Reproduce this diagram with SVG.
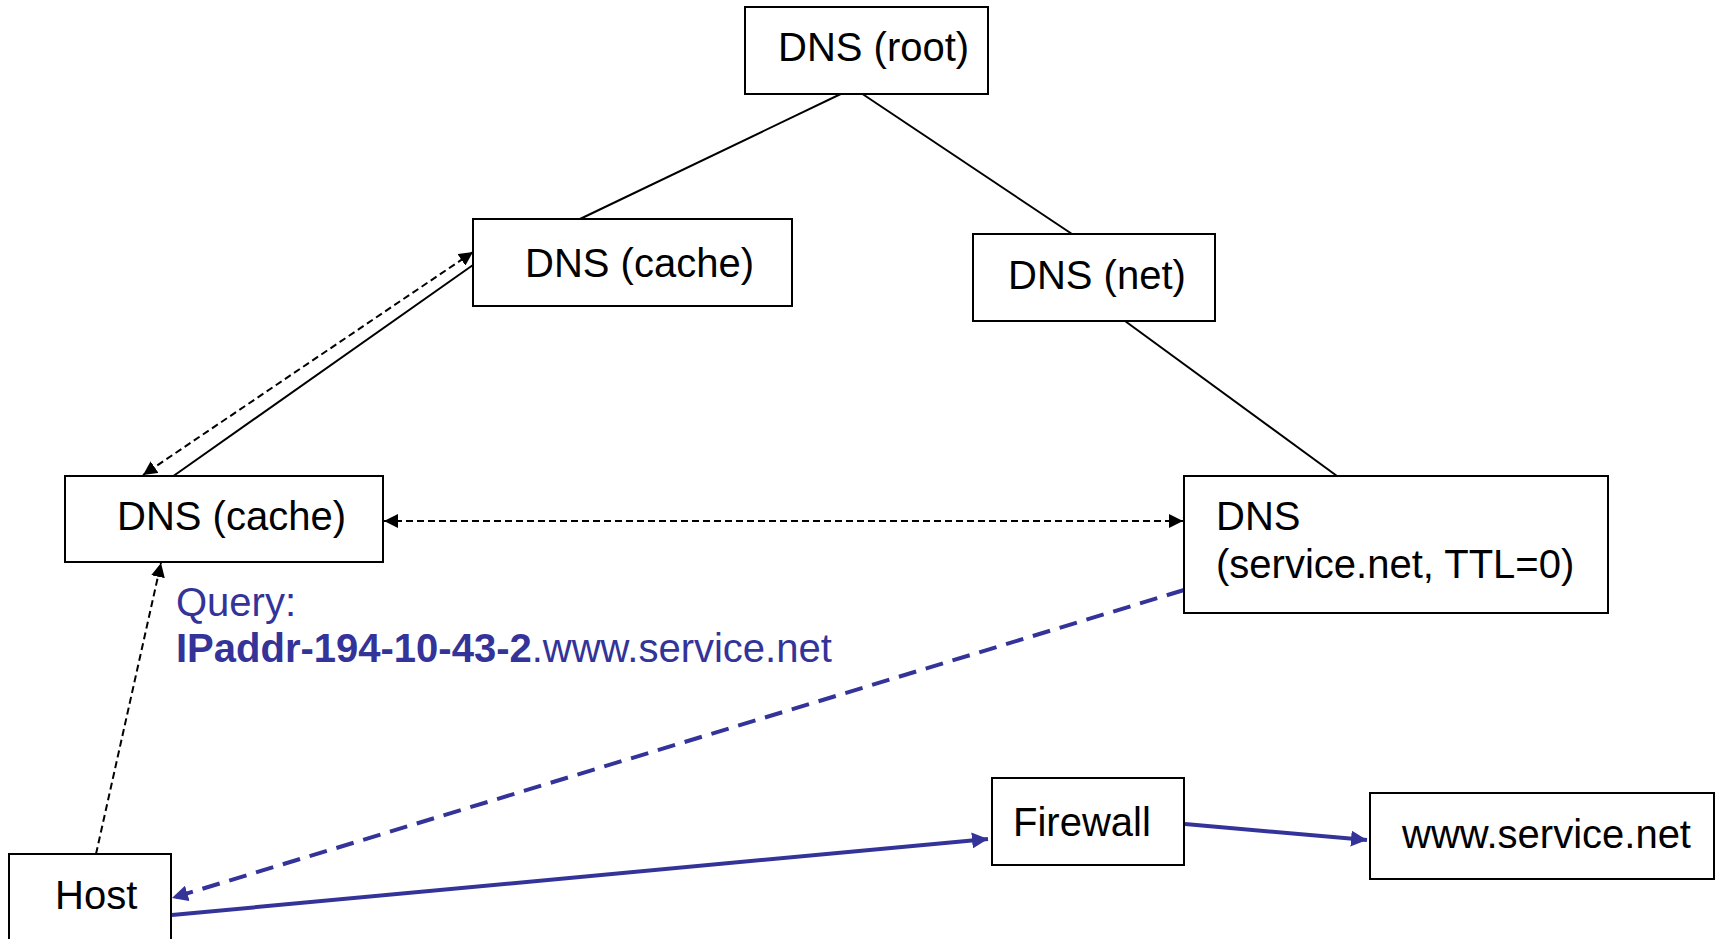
<svg xmlns="http://www.w3.org/2000/svg" width="1722" height="939" viewBox="0 0 1722 939">
  <style>
    .box { fill: #ffffff; stroke: #000000; stroke-width: 2; }
    .lbl { font-family: "Liberation Sans", Arial, sans-serif; font-size: 40px; fill: #000000; }
    .q { font-family: "Liberation Sans", Arial, sans-serif; font-size: 40px; fill: #333399; }
    .tree { stroke: #000000; stroke-width: 2; fill: none; }
    .dash { stroke: #000000; stroke-width: 2; fill: none; stroke-dasharray: 7 4; }
    .bdash { stroke: #333399; stroke-width: 4; fill: none; stroke-dasharray: 18 10; }
    .bsolid { stroke: #333399; stroke-width: 4; fill: none; }
  </style>
  <defs>
    <marker id="ah" markerUnits="userSpaceOnUse" markerWidth="16" markerHeight="14" refX="14" refY="7" orient="auto-start-reverse">
      <path d="M0,0 L14,7 L0,14 Z" fill="#000000"/>
    </marker>
    <marker id="bah" markerUnits="userSpaceOnUse" markerWidth="18" markerHeight="16" refX="16" refY="8" orient="auto-start-reverse">
      <path d="M0,0 L16,8 L0,16 Z" fill="#333399"/>
    </marker>
  </defs>

  <!-- connectors -->
  <g id="connectors">
    <line class="tree" x1="847" y1="91" x2="580" y2="219"/>
    <line class="tree" x1="858" y1="91" x2="1072" y2="234"/>
    <line class="tree" x1="1125" y1="321" x2="1337" y2="476"/>
    <line class="tree" x1="473" y1="265" x2="172" y2="477"/>
    <line class="dash" x1="473" y1="252" x2="143" y2="475" marker-start="url(#ah)" marker-end="url(#ah)"/>
    <line class="dash" x1="384" y1="521" x2="1183" y2="521" marker-start="url(#ah)" marker-end="url(#ah)"/>
    <line class="dash" x1="96" y1="854" x2="161" y2="563" marker-end="url(#ah)"/>
    <line class="bdash" x1="1184" y1="590" x2="172" y2="898" marker-end="url(#bah)"/>
    <line class="bsolid" x1="172" y1="915" x2="988" y2="839" marker-end="url(#bah)"/>
    <line class="bsolid" x1="1185" y1="824" x2="1367" y2="840" marker-end="url(#bah)"/>
  </g>

  <g id="dns-root">
    <rect class="box" x="745" y="7" width="243" height="87"/>
    <text class="lbl" x="778" y="61">DNS (root)</text>
  </g>

  <g id="dns-cache-upper">
    <rect class="box" x="473" y="219" width="319" height="87"/>
    <text class="lbl" x="525" y="277">DNS (cache)</text>
  </g>

  <g id="dns-net">
    <rect class="box" x="973" y="234" width="242" height="87"/>
    <text class="lbl" x="1008" y="289">DNS (net)</text>
  </g>

  <g id="dns-cache-lower">
    <rect class="box" x="65" y="476" width="318" height="86"/>
    <text class="lbl" x="117" y="530">DNS (cache)</text>
  </g>

  <g id="dns-service">
    <rect class="box" x="1184" y="476" width="424" height="137"/>
    <text class="lbl" x="1216" y="530">DNS</text>
    <text class="lbl" x="1216" y="578">(service.net, TTL=0)</text>
  </g>

  <g id="query-label">
    <text class="q" x="176" y="616">Query:</text>
    <text class="q" x="176" y="662"><tspan font-weight="bold">IPaddr-194-10-43-2</tspan>.www.service.net</text>
  </g>

  <g id="host">
    <rect class="box" x="9" y="854" width="162" height="100"/>
    <text class="lbl" x="55" y="909">Host</text>
  </g>

  <g id="firewall">
    <rect class="box" x="992" y="778" width="192" height="87"/>
    <text class="lbl" x="1013" y="836">Firewall</text>
  </g>

  <g id="www-service">
    <rect class="box" x="1370" y="793" width="344" height="86"/>
    <text class="lbl" x="1402" y="848">www.service.net</text>
  </g>
</svg>
